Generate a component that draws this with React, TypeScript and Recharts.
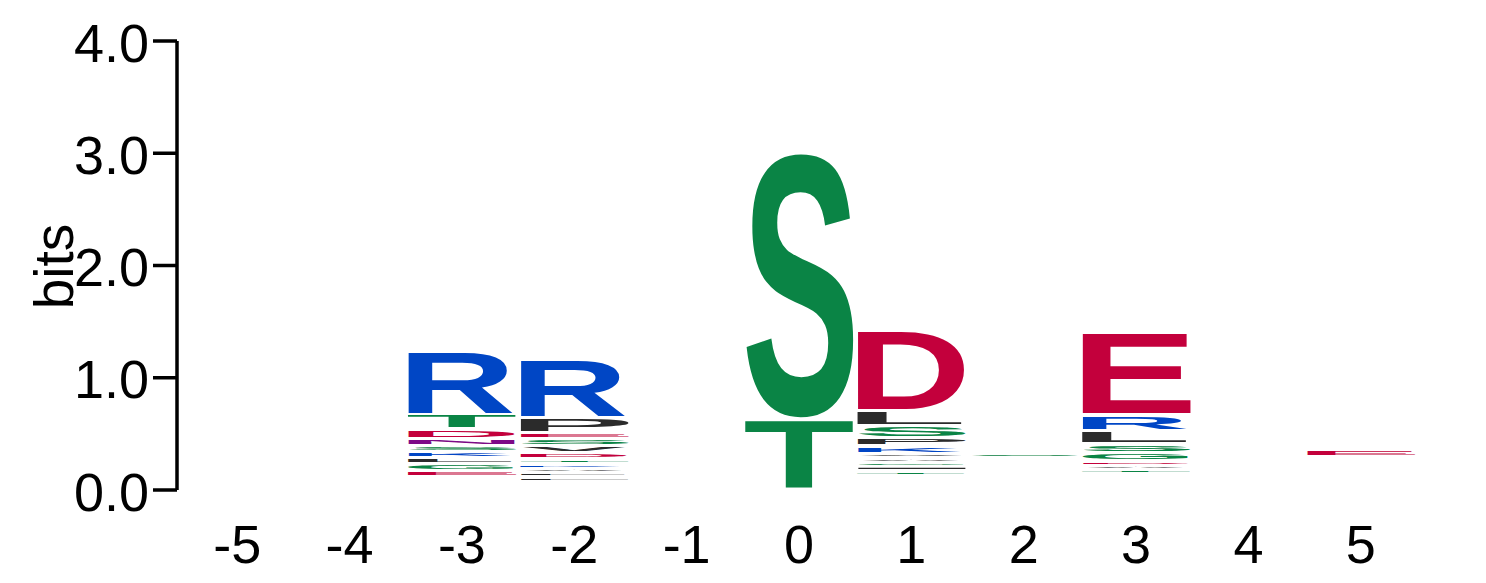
import React from "react";
import { BarChart, Bar, XAxis, YAxis } from "recharts";

// sequence logo: letter stacks per position, bottom -> top, heights in bits
const positions = ["-5", "-4", "-3", "-2", "-1", "0", "1", "2", "3", "4", "5"];
const yTicks = [0, 1, 2, 3, 4];

type Entry = [string, number];

const stackM5: Entry[] = [];
const stackM4: Entry[] = [];
const stackM3: Entry[] = [
  ["A", 0.011], ["C", 0.011], ["F", 0.011], ["H", 0.011], ["I", 0.011], ["M", 0.011],
  ["P", 0.011], ["Q", 0.011], ["V", 0.011], ["W", 0.011], ["Y", 0.011],
  ["E", 0.049], ["G", 0.061], ["L", 0.055], ["K", 0.055], ["S", 0.055],
  ["N", 0.061], ["D", 0.085], ["T", 0.129], ["R", 0.567],
];
const stackM2: Entry[] = [
  ["C", 0.0084], ["G", 0.0084], ["H", 0.0084], ["I", 0.0084], ["M", 0.0084],
  ["N", 0.0084], ["Q", 0.0084], ["W", 0.0084], ["Y", 0.0084],
  ["F", 0.044], ["L", 0.039], ["A", 0.035], ["K", 0.042], ["T", 0.046], ["D", 0.049],
  ["V", 0.059], ["S", 0.068], ["E", 0.056], ["P", 0.129], ["R", 0.516],
];
const stackM1: Entry[] = [];
const stack0: Entry[] = [
  ["A", 0.0003], ["C", 0.0003], ["D", 0.0003], ["E", 0.0003], ["F", 0.0003], ["G", 0.0003],
  ["H", 0.0003], ["I", 0.0003], ["K", 0.0003], ["L", 0.0003], ["M", 0.0003], ["N", 0.0003],
  ["P", 0.0003], ["Q", 0.0003], ["R", 0.0003], ["V", 0.0003], ["W", 0.0003], ["Y", 0.0003],
  ["T", 0.62], ["S", 2.385],
];
const stack1: Entry[] = [
  ["C", 0.013], ["E", 0.013], ["F", 0.013], ["H", 0.013], ["M", 0.013],
  ["N", 0.013], ["Q", 0.013], ["R", 0.013], ["W", 0.013], ["Y", 0.013],
  ["T", 0.042], ["I", 0.041], ["G", 0.035], ["A", 0.036], ["V", 0.043],
  ["K", 0.063], ["P", 0.07], ["S", 0.112], ["L", 0.137], ["D", 0.717],
];
const stack2: Entry[] = [
  ["A", 0.015], ["C", 0.015], ["D", 0.015], ["E", 0.015], ["F", 0.015], ["G", 0.015],
  ["H", 0.015], ["I", 0.015], ["K", 0.015], ["L", 0.015], ["M", 0.015], ["N", 0.015],
  ["P", 0.015], ["Q", 0.015], ["R", 0.015], ["T", 0.015], ["V", 0.015], ["W", 0.015],
  ["Y", 0.015], ["S", 0.04],
];
const stack3: Entry[] = [
  ["C", 0.0125], ["F", 0.0125], ["H", 0.0125], ["I", 0.0125], ["K", 0.0125], ["M", 0.0125],
  ["N", 0.0125], ["P", 0.0125], ["Q", 0.0125], ["V", 0.0125], ["W", 0.0125], ["Y", 0.0125],
  ["T", 0.036], ["A", 0.036], ["D", 0.037], ["G", 0.076], ["S", 0.075],
  ["L", 0.119], ["R", 0.137], ["E", 0.734],
];
const stack4: Entry[] = [];
const stack5: Entry[] = [
  ["A", 0.0156], ["C", 0.0156], ["D", 0.0156], ["F", 0.0156], ["G", 0.0156], ["H", 0.0156],
  ["I", 0.0156], ["K", 0.0156], ["L", 0.0156], ["M", 0.0156], ["N", 0.0156], ["P", 0.0156],
  ["Q", 0.0156], ["R", 0.0156], ["S", 0.0156], ["T", 0.0156], ["V", 0.0156], ["W", 0.0156],
  ["Y", 0.0156], ["E", 0.067],
];

const stacks = [stackM5, stackM4, stackM3, stackM2, stackM1, stack0, stack1, stack2, stack3, stack4, stack5];

// chemistry colour scheme
const COLORS: Record<string, string> = {
  G: "#0a8445", S: "#0a8445", T: "#0a8445", Y: "#0a8445", C: "#0a8445",
  N: "#7d0a87", Q: "#7d0a87",
  K: "#0046c5", R: "#0046c5", H: "#0046c5",
  D: "#c3003c", E: "#c3003c",
};
const BLACK = "#2b2b2b";

// glyph ink box of Liberation Sans Bold (em): left, right, bottom, top
const CAP = 0.688;
const RT = 0.7; // round-letter top
const RB = -0.012; // round-letter bottom
const METRICS: Record<string, [number, number, number, number]> = {
  A: [0.0, 0.721, 0, CAP], C: [0.05, 0.68, RB, RT], D: [0.073, 0.675, 0, CAP],
  E: [0.073, 0.615, 0, CAP], F: [0.073, 0.565, 0, CAP], G: [0.05, 0.72, RB, RT],
  H: [0.073, 0.65, 0, CAP], I: [0.068, 0.208, 0, CAP], K: [0.073, 0.73, 0, CAP],
  L: [0.075, 0.59, 0, CAP], M: [0.07, 0.76, 0, CAP], N: [0.073, 0.65, 0, CAP],
  P: [0.073, 0.62, 0, CAP], Q: [0.045, 0.74, -0.05, RT], R: [0.073, 0.71, 0, CAP],
  S: [0.03, 0.615, RB, RT], T: [0.02, 0.59, 0, CAP], V: [0.0, 0.667, 0, CAP],
  W: [0.005, 0.94, 0, CAP], Y: [0.0, 0.667, 0, CAP],
};

const FONT = "'Liberation Sans', Arial, Helvetica, sans-serif";
const maxLen = Math.max(...stacks.map((s) => s.length));

const rows = positions.map((pos, i) => {
  const row: Record<string, string | number> = { pos };
  for (let k = 0; k < maxLen; k++) {
    const e = stacks[i][k];
    row[`h${k}`] = e ? e[1] : 0;
    row[`l${k}`] = e ? e[0] : "";
  }
  return row;
});

function Glyph(props: any) {
  const { x, y, width, height, letter } = props;
  if (!letter || !(height > 0)) return null;
  const pad = Math.min(1.75, height * 0.375);
  const gh = height - 2 * pad;
  if (gh < 0.6) return null;
  const [l, r, b, t] = METRICS[letter] ?? [0.07, 0.65, 0, CAP];
  const sx = width / ((r - l) * 100);
  const sy = gh / ((t - b) * 100);
  return (
    <text
      transform={`translate(${x} ${y + pad + gh}) scale(${sx} ${sy}) translate(${-l * 100} ${b * 100})`}
      fontSize={100}
      fontWeight="bold"
      fontFamily={FONT}
      fill={COLORS[letter] ?? BLACK}
    >
      {letter}
    </text>
  );
}

function YTick(props: any) {
  const { x, y, payload } = props;
  return (
    <text x={x} y={y} dy={20.5} textAnchor="end" fontSize={54} fontFamily={FONT} fill="#000">
      {Number(payload.value).toFixed(1)}
    </text>
  );
}

function XTick(props: any) {
  const { x, y, payload } = props;
  return (
    <text x={x} y={y} dy={73} textAnchor="middle" fontSize={54} fontFamily={FONT} fill="#000">
      {payload.value}
    </text>
  );
}

export default function App() {
  return (
    <div style={{ width: 1486, height: 583, background: "#fff" }}>
      <style>{`body { margin: 0; }`}</style>
      <BarChart
        width={1486}
        height={583}
        data={rows}
        margin={{ top: 41, right: 69, left: 0, bottom: 33 }}
        barSize={104}
      >
        <XAxis
          dataKey="pos"
          axisLine={false}
          tickLine={false}
          tickSize={0}
          tickMargin={0}
          height={60}
          padding={{ left: 4, right: 0 }}
          tick={<XTick />}
          interval={0}
        />
        <YAxis
          width={177}
          domain={[0, 4]}
          ticks={yTicks}
          type="number"
          allowDataOverflow
          axisLine={{ stroke: "#000", strokeWidth: 3.5 }}
          tickLine={{ stroke: "#000", strokeWidth: 3.5 }}
          tickSize={24}
          tickMargin={4}
          tick={<YTick />}
          label={{
            content: (p: any) => {
              const vb = p.viewBox ?? { x: 0, y: 41, width: 177, height: 449 };
              const cx = vb.x + 73;
              const cy = vb.y + vb.height / 2 + 1;
              return (
                <text
                  x={cx}
                  y={cy}
                  transform={`rotate(-90 ${cx} ${cy})`}
                  textAnchor="middle"
                  fontSize={55}
                  fontFamily={FONT}
                  fill="#000"
                >
                  bits
                </text>
              );
            },
          }}
        />
        {Array.from({ length: maxLen }, (_, k) => (
          <Bar
            key={k}
            dataKey={`h${k}`}
            stackId="logo"
            isAnimationActive={false}
            shape={(p: any) => <Glyph {...p} letter={p.payload?.[`l${k}`]} />}
          />
        ))}
      </BarChart>
    </div>
  );
}
